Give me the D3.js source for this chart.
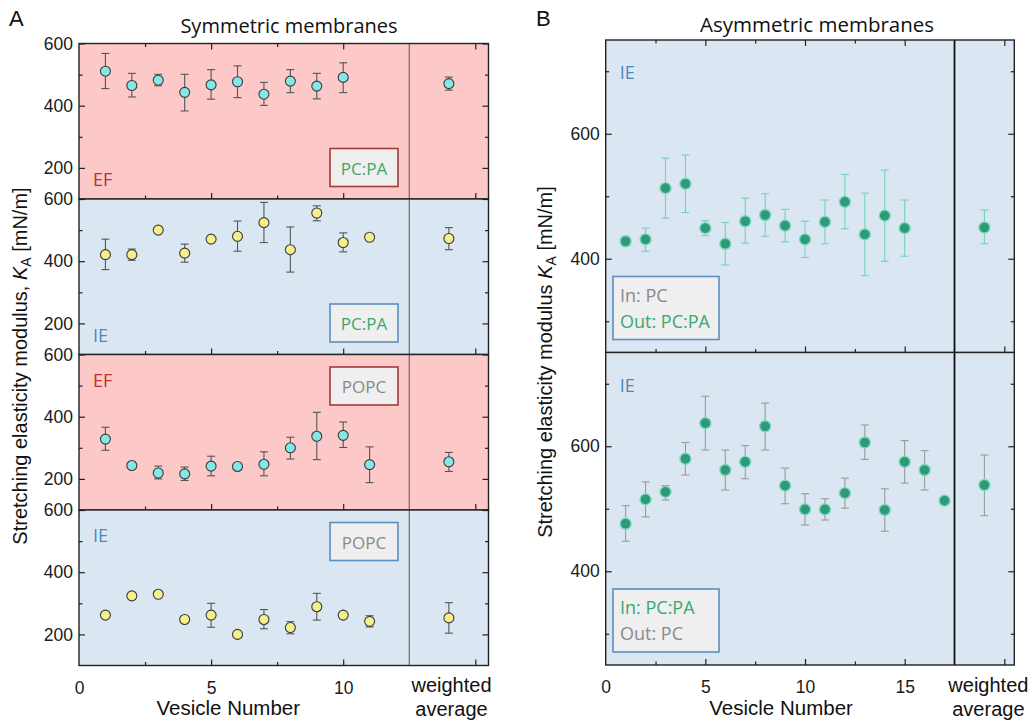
<!DOCTYPE html>
<html><head><meta charset="utf-8">
<script src="https://cdn.jsdelivr.net/npm/d3@7"></script>
<style>
body{margin:0;background:#fff;}
svg{display:block;}
text{font-family:"Liberation Sans",Arial,sans-serif;}
.cal{font-family:"Open Sans","Noto Sans",sans-serif;}
</style></head>
<body><svg id="c" width="1035" height="725"></svg>
<script>
// ---------- data ----------
const vesA = [1,2,3,4,5,6,7,8,9,10,11];
const vesB = [1,2,3,4,5,6,7,8,9,10,11,12,13,14,15,16,17];

// Panel A, EF, PC:PA
const efPCPA_mean = [511,465,482,443,467,477,437,479,463,491];
const efPCPA_lo   = [455,428,464,383,421,426,401,442,422,442];
const efPCPA_hi   = [568,504,501,501,516,528,475,516,504,538];
const efPCPA_avg  = [471,450,492];
// Panel A, IE, PC:PA
const iePCPA_mean = [421,421,500,426,471,480,524,437,555,460,477];
const iePCPA_lo   = [373,403,495,397,466,432,460,365,530,430,470];
const iePCPA_hi   = [471,439,505,455,476,529,589,510,578,491,484];
const iePCPA_avg  = [473,437,508];
// Panel A, EF, POPC
const efPOPC_mean = [328,243,219,216,241,240,247,300,337,340,246];
const efPOPC_lo   = [292,236,200,195,210,234,210,264,262,301,188];
const efPOPC_hi   = [366,250,241,238,273,246,287,334,414,383,303];
const efPOPC_avg  = [255,224,285];
// Panel A, IE, POPC
const iePOPC_mean = [262,324,329,248,262,200,248,222,289,262,242];
const iePOPC_lo   = [256,319,323,240,223,195,218,202,246,255,224];
const iePOPC_hi   = [268,329,335,256,300,205,280,241,332,269,260];
const iePOPC_avg  = [253,204,302];
// Panel B, In: PC / Out: PC:PA
const inPC_mean = [428,431,513,520,449,424,460,470,453,431,459,491,439,469,449];
const inPC_lo   = [420,412,465,474,437,390,425,436,427,402,424,448,373,396,404];
const inPC_hi   = [436,449,561,566,461,458,497,504,479,460,494,535,505,542,494];
const inPC_avg  = [450,424,478];
// Panel B, In: PC:PA / Out: PC
const inPCPA_mean = [476,515,527,580,637,562,575,632,537,499,499,525,606,498,575,562,513];
const inPCPA_lo   = [448,487,514,554,594,530,548,594,508,474,482,501,579,464,541,530,508];
const inPCPA_hi   = [505,543,537,606,680,594,601,669,565,524,516,549,634,532,609,593,518];
const inPCPA_avg  = [538,489,586];

const yTicksA_major = [200,400,600];
const yTicksA_minor = [300,500];
const yTicksB_major = [400,600];
const yTicksB_minor = [300,500,700];
const xTicksA_major = [0,5,10];
const xTicksB_major = [0,5,10,15];

// ---------- styles ----------
const PINK = "#fcc8c8", BLUE = "#dbe6f3";
const RED_T = "#b8312f", BLUE_T = "#4f86b8", GREEN_T = "#3aa86e", GRAY_T = "#8a8a8a";

const svg = d3.select("#c");

function drawPanel(o){
  const g = svg.append("g");
  const x = o.x, y = o.y;
  const [x0,x1] = x.range(), [y1,y0] = y.range();
  g.append("rect").attr("x",x0).attr("y",y0).attr("width",x1-x0).attr("height",y1-y0).attr("fill",o.bg);
  g.append("line").attr("x1",x(o.sep)).attr("x2",x(o.sep)).attr("y1",y0).attr("y2",y1)
    .attr("stroke",o.sepColor).attr("stroke-width",o.sepWidth);
  const yl = g.append("g").attr("transform",`translate(${x0},0)`)
    .call(d3.axisLeft(y).tickValues(o.yMajor).tickSize(-6).tickPadding(6).tickFormat(d3.format("d")));
  const yl2 = g.append("g").attr("transform",`translate(${x0},0)`)
    .call(d3.axisLeft(y).tickValues(o.yMinor).tickSize(-3.5).tickFormat(""));
  const yr = g.append("g").attr("transform",`translate(${x1},0)`)
    .call(d3.axisRight(y).tickValues(o.yMajor).tickSize(-6).tickFormat(""));
  const yr2 = g.append("g").attr("transform",`translate(${x1},0)`)
    .call(d3.axisRight(y).tickValues(o.yMinor).tickSize(-3.5).tickFormat(""));
  const xb = g.append("g").attr("transform",`translate(0,${y1})`)
    .call(d3.axisBottom(x).tickValues(o.xMajor).tickSize(-6).tickFormat(""));
  const xb2 = g.append("g").attr("transform",`translate(0,${y1})`)
    .call(d3.axisBottom(x).tickValues(o.xMinor).tickSize(-3.5).tickFormat(""));
  const axes = [yl,yl2,yr,yr2,xb,xb2];
  if(o.topTicks){
    axes.push(g.append("g").attr("transform",`translate(0,${y0})`)
      .call(d3.axisTop(x).tickValues(o.xMajor).tickSize(-6).tickFormat("")));
    axes.push(g.append("g").attr("transform",`translate(0,${y0})`)
      .call(d3.axisTop(x).tickValues(o.xMinor).tickSize(-3.5).tickFormat("")));
  }
  axes.forEach(a=>{
    a.select(".domain").remove();
    a.selectAll("line").attr("stroke","#222").attr("stroke-width",1.2);
    a.selectAll("text").attr("font-size",17.5).attr("fill","#1a1a1a");
  });
  const pts = o.xs.map((v,i)=>({x:v,m:o.mean[i],lo:o.lo[i],hi:o.hi[i]}));
  pts.push({x:o.avgX,m:o.avg[0],lo:o.avg[1],hi:o.avg[2]});
  const eb = g.append("g").attr("stroke",o.errColor).attr("stroke-width",1.1);
  pts.forEach(p=>{
    eb.append("line").attr("x1",x(p.x)).attr("x2",x(p.x)).attr("y1",y(p.lo)).attr("y2",y(p.hi));
    eb.append("line").attr("x1",x(p.x)-4).attr("x2",x(p.x)+4).attr("y1",y(p.lo)).attr("y2",y(p.lo));
    eb.append("line").attr("x1",x(p.x)-4).attr("x2",x(p.x)+4).attr("y1",y(p.hi)).attr("y2",y(p.hi));
  });
  g.append("g").selectAll("circle").data(pts).join("circle")
    .attr("cx",d=>x(d.x)).attr("cy",d=>y(d.m)).attr("r",o.r)
    .attr("fill",o.fill).attr("stroke",o.stroke).attr("stroke-width",o.strokeW);
  g.append("rect").attr("x",x0).attr("y",y0).attr("width",x1-x0).attr("height",y1-y0)
    .attr("fill","none").attr("stroke","#222").attr("stroke-width",1.4);
  g.append("text").attr("class","cal").attr("x",x0+14).attr("y",o.tagY)
    .attr("font-size",18).attr("fill",o.tagColor).text(o.tag);
  if(o.box){
    const b = o.box;
    g.append("rect").attr("x",b.x).attr("y",b.y).attr("width",b.w).attr("height",b.h)
      .attr("fill","#efefef").attr("stroke",b.stroke).attr("stroke-width",1.6);
    b.lines.forEach((ln,i)=>{
      g.append("text").attr("class","cal").attr("x",b.tx).attr("y",b.y+b.ty[i])
        .attr("text-anchor",b.anchor).attr("font-size",b.fs).attr("fill",ln[1]).text(ln[0]);
    });
  }
  return g;
}

// ---------- Panel A ----------
const xA = d3.scaleLinear().domain([0,15.5]).range([79,488.5]);
const hA = 155.5, topA = 43.5;
const aPanels = [
  {mean:efPCPA_mean,lo:efPCPA_lo,hi:efPCPA_hi,avg:efPCPA_avg,bg:PINK,fill:"#84e8e8",tag:"EF",tagColor:RED_T,tagBottom:true,
   box:{stroke:"#a23a3a",text:"PC:PA",color:GREEN_T,top:false}},
  {mean:iePCPA_mean,lo:iePCPA_lo,hi:iePCPA_hi,avg:iePCPA_avg,bg:BLUE,fill:"#f6f08c",tag:"IE",tagColor:BLUE_T,tagBottom:true,
   box:{stroke:"#5a8fc0",text:"PC:PA",color:GREEN_T,top:false}},
  {mean:efPOPC_mean,lo:efPOPC_lo,hi:efPOPC_hi,avg:efPOPC_avg,bg:PINK,fill:"#84e8e8",tag:"EF",tagColor:RED_T,tagBottom:false,
   box:{stroke:"#a23a3a",text:"POPC",color:GRAY_T,top:true}},
  {mean:iePOPC_mean,lo:iePOPC_lo,hi:iePOPC_hi,avg:iePOPC_avg,bg:BLUE,fill:"#f6f08c",tag:"IE",tagColor:BLUE_T,tagBottom:false,
   box:{stroke:"#5a8fc0",text:"POPC",color:GRAY_T,top:true}}
];
aPanels.forEach((p,i)=>{
  const t = topA + i*hA;
  const y = d3.scaleLinear().domain([100,600]).range([t+hA,t]);
  const by = p.box.top ? t+12.5 : t+hA-50.5;
  drawPanel({
    x:xA, y:y, sep:12.5, sepColor:"#555", sepWidth:1,
    yMajor:yTicksA_major, yMinor:yTicksA_minor,
    xMajor:[5,10,15], xMinor:[2.5,7.5], topTicks:i===0,
    xs:vesA.slice(0,p.mean.length), mean:p.mean, lo:p.lo, hi:p.hi, avg:p.avg, avgX:14,
    errColor:"#555", fill:p.fill, stroke:"#3a3a3a", strokeW:1.1, r:5,
    bg:p.bg, tag:p.tag, tagColor:p.tagColor, tagY: p.tagBottom ? t+hA-13 : t+32,
    box:{x:330,y:by,w:68,h:38,stroke:p.box.stroke,tx:364,ty:[26],anchor:"middle",fs:17,lines:[[p.box.text,p.box.color]]}
  });
});
const bottomA = topA + 4*hA;
const xAlab = svg.append("g").attr("transform",`translate(0,${bottomA})`)
  .call(d3.axisBottom(xA).tickValues(xTicksA_major).tickSize(0).tickPadding(16).tickFormat(d3.format("d")));
xAlab.select(".domain").remove();
xAlab.selectAll("text").attr("font-size",17.5).attr("fill","#1a1a1a");

// ---------- Panel B ----------
const xB = d3.scaleLinear().domain([0,20.5]).range([605.7,1014.3]);
const hB = 312.5, topB = 40;
const bPanels = [
  {mean:inPC_mean,lo:inPC_lo,hi:inPC_hi,avg:inPC_avg,err:"#74d2bd",
   lines:[["In: PC",GRAY_T],["Out: PC:PA",GREEN_T]]},
  {mean:inPCPA_mean,lo:inPCPA_lo,hi:inPCPA_hi,avg:inPCPA_avg,err:"#9a9a9a",
   lines:[["In: PC:PA",GREEN_T],["Out: PC",GRAY_T]]}
];
bPanels.forEach((p,i)=>{
  const t = topB + i*hB;
  const y = d3.scaleLinear().domain([250,750]).range([t+hB,t]);
  drawPanel({
    x:xB, y:y, sep:17.5, sepColor:"#111", sepWidth:1.8,
    yMajor:yTicksB_major, yMinor:yTicksB_minor,
    xMajor:[5,10,15,20], xMinor:[2.5,7.5,12.5], topTicks:i===0,
    xs:vesB.slice(0,p.mean.length), mean:p.mean, lo:p.lo, hi:p.hi, avg:p.avg, avgX:19,
    errColor:p.err, fill:"#2f9a78", stroke:"#7fd8bf", strokeW:1.4, r:5.5,
    bg:BLUE, tag:"IE", tagColor:BLUE_T, tagY:t+39,
    box:{x:613,y:t+hB-76,w:106,h:63,stroke:"#5a8fc0",tx:620,ty:[25,51],anchor:"start",fs:18,lines:p.lines}
  });
});
const bottomB = topB + 2*hB;
const xBlab = svg.append("g").attr("transform",`translate(0,${bottomB})`)
  .call(d3.axisBottom(xB).tickValues(xTicksB_major).tickSize(0).tickPadding(16).tickFormat(d3.format("d")));
xBlab.select(".domain").remove();
xBlab.selectAll("text").attr("font-size",17.5).attr("fill","#1a1a1a");

// ---------- titles & labels ----------
svg.append("text").attr("x",9).attr("y",26).attr("font-size",22).attr("fill","#111").text("A");
svg.append("text").attr("x",536).attr("y",26).attr("font-size",22).attr("fill","#111").text("B");
svg.append("text").attr("class","cal").attr("x",289).attr("y",33).attr("text-anchor","middle").attr("font-size",20).attr("fill","#111").text("Symmetric membranes");
svg.append("text").attr("class","cal").attr("x",817).attr("y",32).attr("text-anchor","middle").attr("font-size",20.5).attr("fill","#111").text("Asymmetric membranes");

function wavg(xc){
  const t = svg.append("text").attr("text-anchor","middle").attr("font-size",20).attr("fill","#111");
  t.append("tspan").attr("x",xc).attr("y",692).text("weighted");
  t.append("tspan").attr("x",xc).attr("y",716).text("average");
}
wavg(xA(14.1)); wavg(xB(19.2));

svg.append("text").attr("x",xA(5.65)).attr("y",715).attr("text-anchor","middle").attr("font-size",20.5).attr("fill","#111").text("Vesicle Number");
svg.append("text").attr("x",xB(8.8)).attr("y",715).attr("text-anchor","middle").attr("font-size",20.5).attr("fill","#111").text("Vesicle Number");

function ylabel(xc, yc, pre){
  const t = svg.append("text").attr("transform",`translate(${xc},${yc}) rotate(-90)`)
    .attr("text-anchor","middle").attr("font-size",20).attr("fill","#111");
  t.append("tspan").text(pre);
  t.append("tspan").attr("font-style","italic").text("K");
  t.append("tspan").attr("font-size",14).attr("dy",4).text("A");
  t.append("tspan").attr("dy",-4).text(" [mN/m]");
}
ylabel(27, 366, "Stretching elasticity modulus, ");
ylabel(552, 362, "Stretching elasticity modulus ");
</script></body></html>
